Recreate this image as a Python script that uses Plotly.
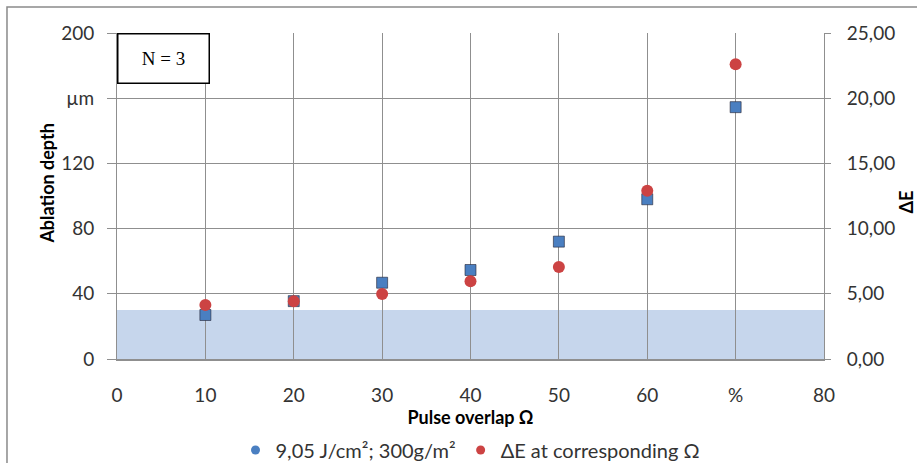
import plotly.graph_objects as go

overlap = [10, 20, 30, 40, 50, 60, 70]
depth_um = [27, 35.5, 46.8, 54.6, 72, 98, 154.5]
delta_e = [4.14, 4.42, 4.98, 5.96, 7.05, 12.9, 22.6]
threshold_um = [0, 30]

x_tickvals = [0, 10, 20, 30, 40, 50, 60, 70, 80]
x_ticktext = ["0", "10", "20", "30", "40", "50", "60", "%", "80"]
y_tickvals = [0, 40, 80, 120, 160, 200]
y_ticktext = ["0", "40", "80", "120", "µm", "200"]
y2_tickvals = [0, 5, 10, 15, 20, 25]
y2_ticktext = ["0,00", "5,00", "10,00", "15,00", "20,00", "25,00"]

BLUE = "#4a7fc1"
RED = "#cc4343"
GRID = "#8f8f8f"
FONT = "Lato"
TXT = "#333333"

fig = go.Figure()

fig.add_shape(type="rect", xref="x", yref="y", x0=x_tickvals[0], x1=x_tickvals[-1],
              y0=threshold_um[0], y1=threshold_um[1], fillcolor="#c6d6ec",
              line=dict(width=0), layer="below")

fig.add_trace(go.Scatter(x=overlap, y=depth_um, mode="markers", showlegend=False,
                         marker=dict(symbol="square", size=11, color=BLUE,
                                     line=dict(color="#223", width=0.6))))
fig.add_trace(go.Scatter(x=overlap, y=delta_e, mode="markers", yaxis="y2", showlegend=False,
                         marker=dict(symbol="circle", size=12, color=RED)))
# legend entries (circle symbols as in reference)
fig.add_trace(go.Scatter(x=[None], y=[None], mode="markers", name="9,05 J/cm²; 300g/m²",
                         marker=dict(symbol="circle", size=9, color=BLUE)))
fig.add_trace(go.Scatter(x=[None], y=[None], mode="markers", name="ΔE at corresponding Ω",
                         marker=dict(symbol="circle", size=9, color=RED)))

fig.add_annotation(xref="x", yref="y", x=5.3, y=184.5, text="N = 3", showarrow=False,
                   font=dict(family="Liberation Serif", size=19, color="black"),
                   bordercolor="black", borderwidth=1.5, bgcolor="white",
                   width=88, height=46)

# axis titles placed like the reference (slightly above centre)
fig.add_annotation(xref="paper", yref="paper", x=-0.099, y=0.538, text="<b>Ablation depth</b>",
                   textangle=-90, showarrow=False, xanchor="center", yanchor="middle",
                   font=dict(size=18, color="black"))
fig.add_annotation(xref="paper", yref="paper", x=1.1146, y=0.48, text="<b>ΔE</b>",
                   textangle=-90, showarrow=False, xanchor="center", yanchor="middle",
                   font=dict(size=18, color="black"))

# outer chart border
fig.add_shape(type="rect", xref="paper", yref="paper", x0=-0.1556, x1=1.25, y0=-0.4,
              y1=1.0798, line=dict(color="#8a8a8a", width=1.5), fillcolor="rgba(0,0,0,0)")

fig.update_layout(
    width=917, height=463,
    margin=dict(l=117, r=93, t=33, b=104),
    paper_bgcolor="white", plot_bgcolor="white",
    font=dict(family=FONT, size=19, color=TXT),
    xaxis=dict(range=[0, 80], tickvals=x_tickvals, ticktext=x_ticktext,
               showgrid=True, gridcolor=GRID, gridwidth=1, zeroline=False,
               showline=True, linecolor=GRID, linewidth=1.5, ticks="", ticklabelstandoff=18,
               automargin=False,
               title=dict(text="<b>Pulse overlap Ω</b>", font=dict(size=18, color="black"),
                          standoff=4)),
    yaxis=dict(range=[0, 200], tickvals=y_tickvals, ticktext=y_ticktext,
               showgrid=True, gridcolor=GRID, gridwidth=1, zeroline=False,
               showline=True, linecolor=GRID, linewidth=1, ticks="outside", ticklen=9,
               tickcolor=GRID, ticklabelstandoff=9, automargin=False),
    yaxis2=dict(range=[0, 25], tickvals=y2_tickvals, ticktext=y2_ticktext,
                overlaying="y", side="right", showgrid=False, zeroline=False,
                showline=True, linecolor=GRID, linewidth=1, ticks="outside", ticklen=6,
                tickcolor=GRID, ticklabelstandoff=12, automargin=False),
    legend=dict(orientation="h", x=0.5, xanchor="center", xref="paper",
                y=0.028, yanchor="middle", yref="container",
                font=dict(size=20, color=TXT), itemwidth=30, tracegroupgap=0),
    showlegend=True,
)

fig.write_html("out.html")
